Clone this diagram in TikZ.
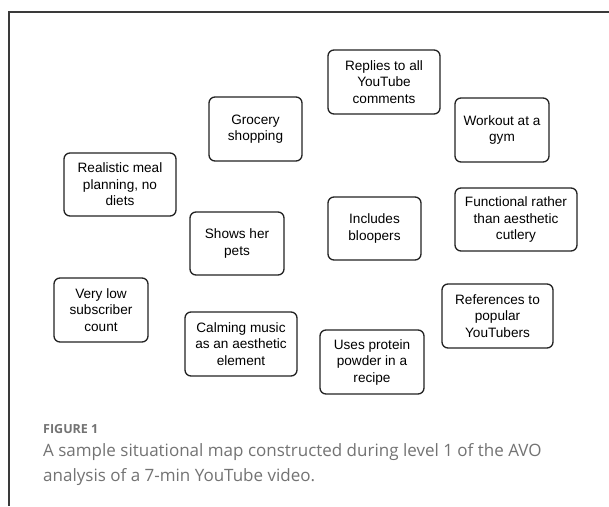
\documentclass[tikz,border=0pt]{standalone}
\usepackage{fontspec}
\setmainfont{Liberation Sans}
\newfontfamily\capfont{Open Sans}
\definecolor{boxline}{HTML}{222222}
\definecolor{frameline}{HTML}{3A3A3A}
\definecolor{capgray}{HTML}{737373}
\begin{document}
\begin{tikzpicture}[x=1pt,y=-1pt,
  idea/.style={draw=boxline, line width=1.3pt, rounded corners=6pt, align=center,
    font=\fontsize{13.6}{16.5}\selectfont, inner sep=0pt},
  capline/.style={anchor=west, inner sep=0pt, text=capgray}]
\useasboundingbox (0,0) rectangle (609,506);
\fill[white] (0,0) rectangle (609,506);
\coordinate (ftr) at (609,12);
\coordinate (ftl) at (9,12);
\coordinate (fbl) at (9,506);
\draw[frameline, line width=1.2pt] (ftr) -- (ftl) -- (fbl);

\node[idea, minimum width=112pt, minimum height=64pt] (replies) at (384,82) {Replies to all\\YouTube\\comments};
\node[idea, minimum width=93pt, minimum height=64pt] (grocery) at (255.5,129) {Grocery\\shopping};
\node[idea, minimum width=94pt, minimum height=64pt] (workout) at (502,130) {Workout at a\\gym};
\node[idea, minimum width=112pt, minimum height=63pt] (meal) at (120,184.5) {Realistic meal\\planning, no\\diets};
\node[idea, minimum width=93pt, minimum height=63pt] (bloopers) at (374.5,228.5) {Includes\\bloopers};
\node[idea, minimum width=122pt, minimum height=63pt] (cutlery) at (516,219.5) {Functional rather\\than aesthetic\\cutlery};
\node[idea, minimum width=94pt, minimum height=63pt] (pets) at (237,243.5) {Shows her\\pets};
\node[idea, minimum width=94pt, minimum height=64pt] (subs) at (101,310) {Very low\\subscriber\\count};
\node[idea, minimum width=112pt, minimum height=64pt] (music) at (241,344) {Calming music\\as an aesthetic\\element};
\node[idea, minimum width=104pt, minimum height=64pt] (protein) at (372,362) {Uses protein\\powder in a\\recipe};
\node[idea, minimum width=111pt, minimum height=64pt] (refs) at (497.5,316) {References to\\popular\\YouTubers};

\node[capline, font=\capfont\bfseries\fontsize{12.5}{15}\selectfont] (figlabel) at (43,429) {FIGURE 1};
\node[capline, font=\capfont\fontsize{17}{20}\selectfont] (cap1) at (43,452) {A sample situational map constructed during level 1 of the AVO};
\node[capline, font=\capfont\fontsize{17}{20}\selectfont] (cap2) at (43,477) {analysis of a 7-min YouTube video.};
\end{tikzpicture}
\end{document}
